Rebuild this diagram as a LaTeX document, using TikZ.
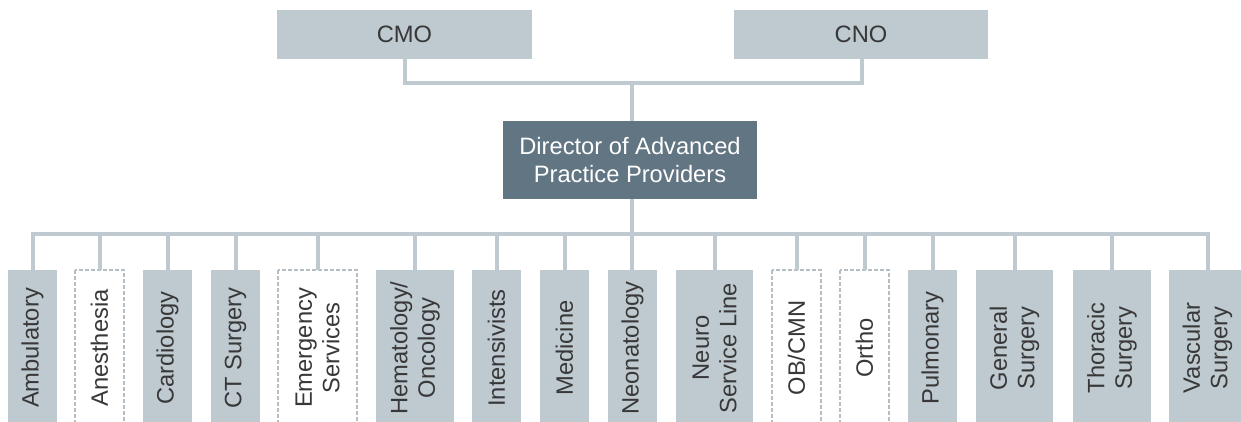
\documentclass[tikz,border=0pt]{standalone}
\usepackage{fontspec}
\setmainfont{Liberation Sans}
\definecolor{boxc}{HTML}{BEC9D0}
\definecolor{darkc}{HTML}{627583}
\definecolor{txtc}{HTML}{383838}
\definecolor{dashc}{HTML}{B5BEC5}
\begin{document}
\begin{tikzpicture}[x=1pt,y=-1pt,
  every node/.style={font=\fontsize{23.7}{27.5}\selectfont, inner sep=0pt, outer sep=0pt},
  topbox/.style={fill=boxc, text=txtc, minimum width=255, minimum height=49},
  dirbox/.style={fill=darkc, text=white, align=center, minimum width=254, minimum height=78},
  unitbox/.style={fill=boxc, text=txtc, rotate=90, align=center, minimum width=156, minimum height=#1},
  dashbox/.style={fill=white, draw=dashc, line width=1.2pt, dash pattern=on 4pt off 2pt, text=txtc, rotate=90, align=center, minimum width=156, minimum height=#1},
  conn/.style={draw=boxc, line width=4pt}]
\useasboundingbox (0,0) rectangle (1241,422);
% top
\node[topbox] (cmo) at (404.5,34.5) {CMO};
\node[topbox, minimum width=254] (cno) at (861,34.5) {CNO};
\node[dirbox] (dir) at (630,160) {Director of Advanced\\Practice Providers};
\coordinate (topbus) at (632,83);
\coordinate (bus) at (632,234);
% units
\node[unitbox=49] (amb) at (32.5,348) {Ambulatory};
\node[dashbox=49] (ane) at (99.5,348) {Anesthesia};
\node[unitbox=49] (car) at (167.5,348) {Cardiology};
\node[unitbox=49] (cts) at (235.5,348) {CT Surgery};
\node[dashbox=79] (eme) at (317.5,348) {Emergency\\Services};
\node[unitbox=78] (hem) at (415,348) {Hematology/\\Oncology};
\node[unitbox=49] (int) at (496.5,348) {Intensivists};
\node[unitbox=49] (med) at (564.5,348) {Medicine};
\node[unitbox=49] (neo) at (632.5,348) {Neonatology};
\node[unitbox=77] (neu) at (714.5,348) {Neuro\\Service Line};
\node[dashbox=49] (obc) at (796.5,348) {OB/CMN};
\node[dashbox=49] (ort) at (864.5,348) {Ortho};
\node[unitbox=49] (pul) at (932.5,348) {Pulmonary};
\node[unitbox=77] (gen) at (1014.5,348) {General\\Surgery};
\node[unitbox=78] (tho) at (1112,348) {Thoracic\\Surgery};
\node[unitbox=77] (vas) at (1207.5,348) {Vascular\\Surgery};
% connectors top
\draw[conn] ([xshift=0.5pt]cmo.south) -- ([xshift=0.5pt]cmo.south |- topbus) -- ([xshift=1pt]cno.south |- topbus) -- ([xshift=1pt]cno.south);
\draw[conn] (dir.north -| topbus) -- (topbus);
\draw[conn] (dir.south -| bus) -- (neo.east -| bus);
% bus
\draw[conn] (amb.east) -- (amb.east |- bus) -- (vas.east |- bus) -- (vas.east);
\foreach \n in {ane,car,cts,eme,hem,int,med,neu,obc,ort,pul,gen,tho}
  \draw[conn] (\n.east) -- (\n.east |- bus);
\end{tikzpicture}
\end{document}
